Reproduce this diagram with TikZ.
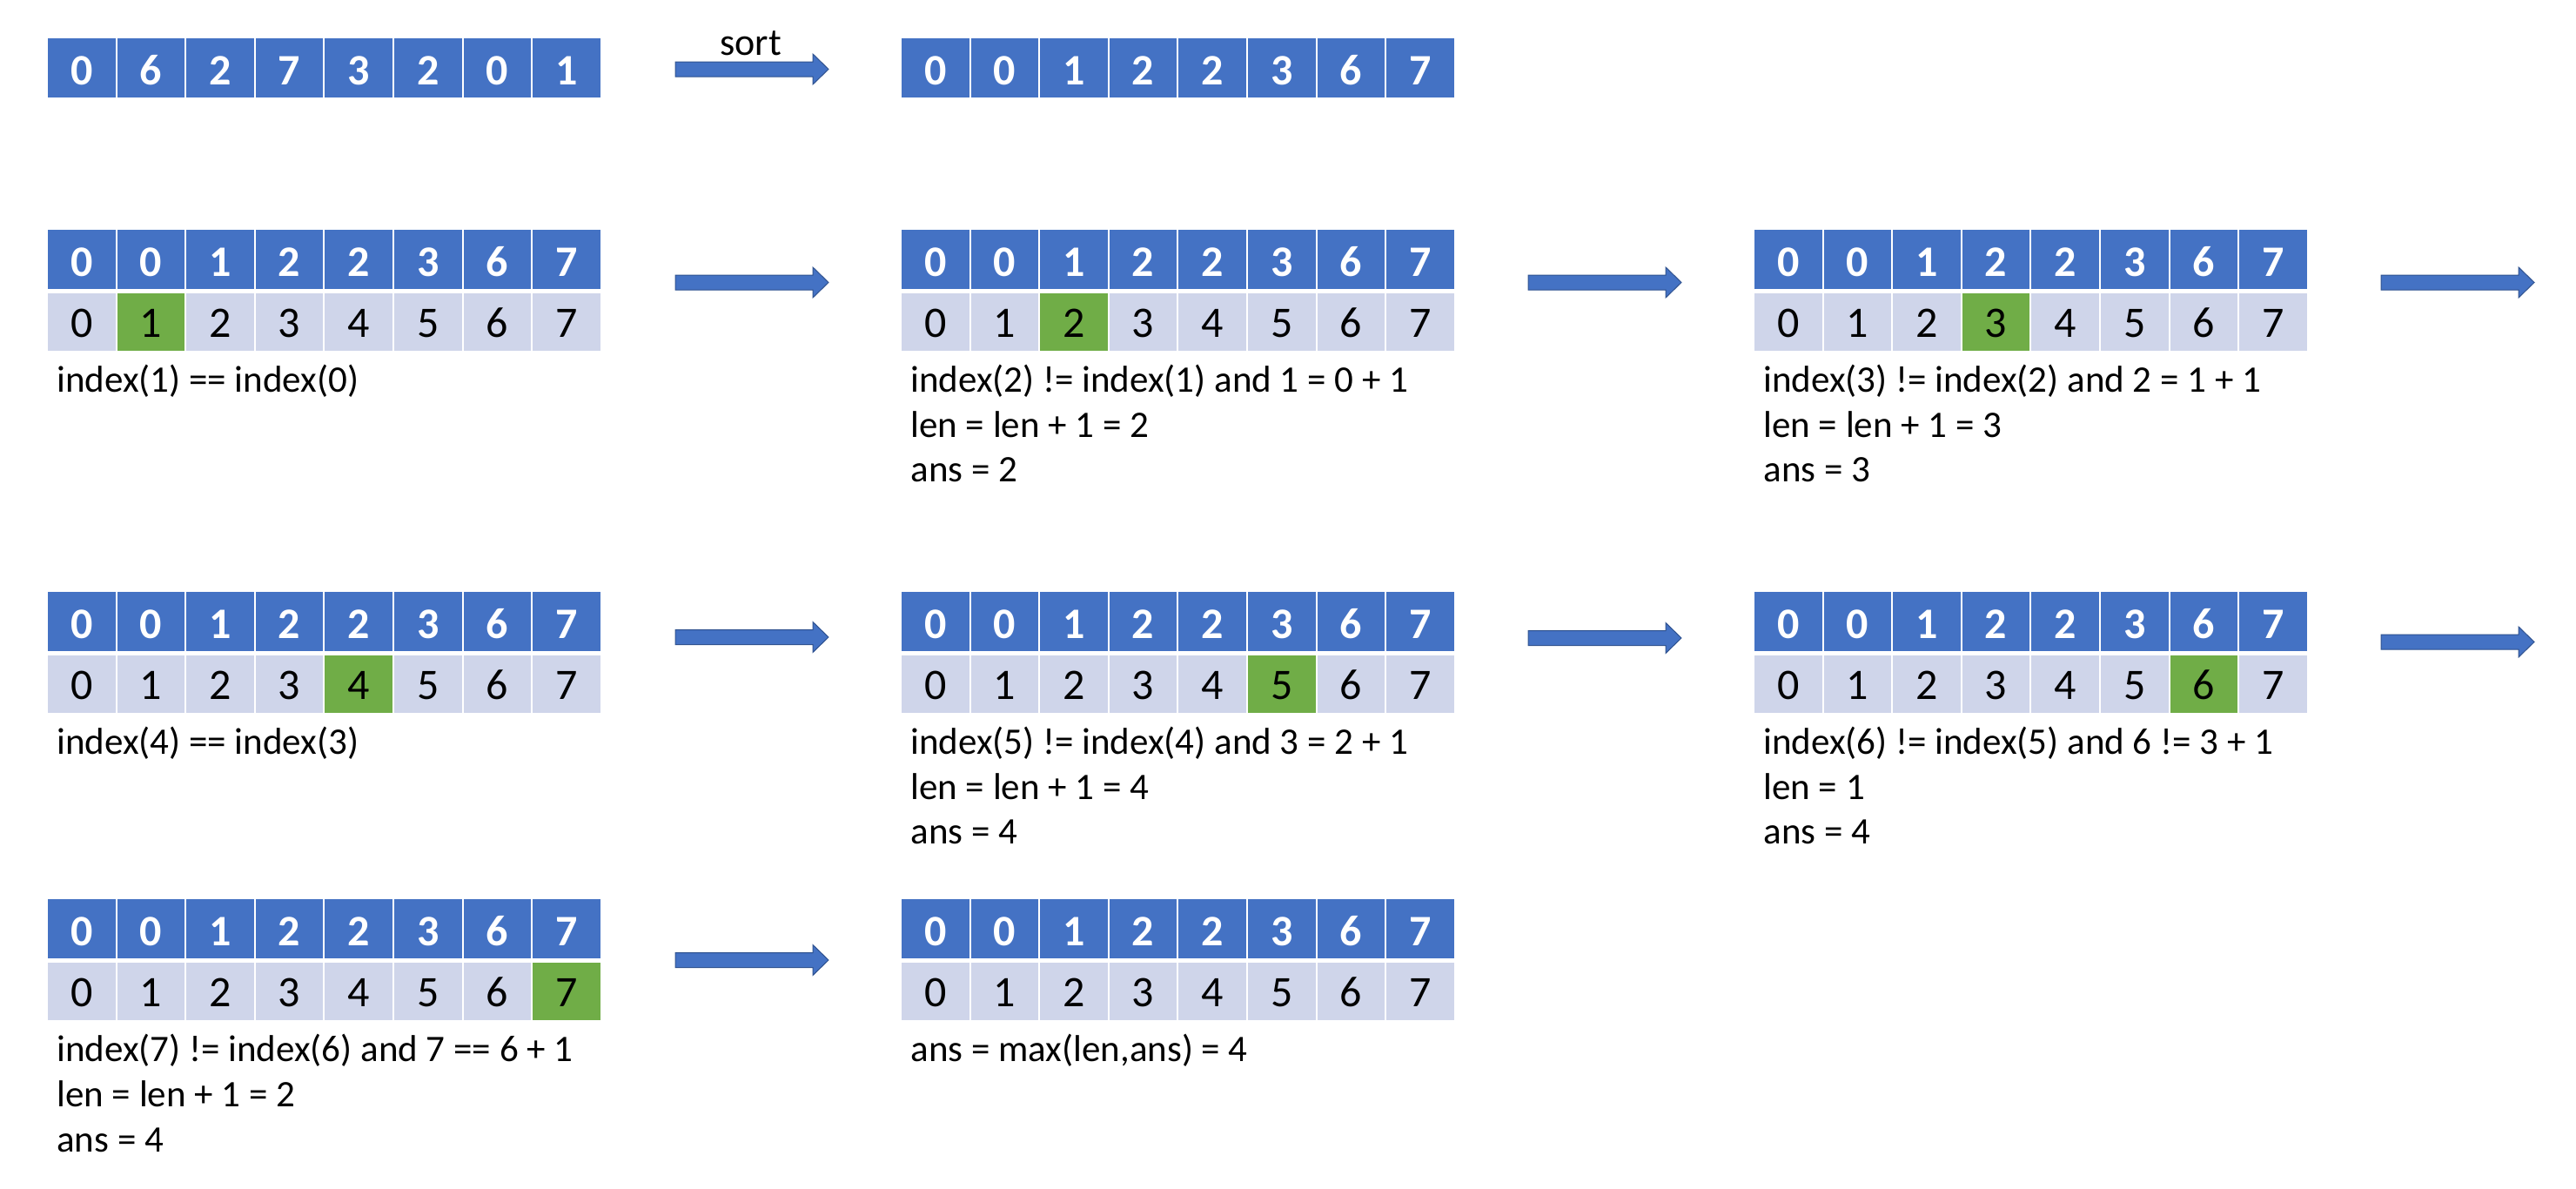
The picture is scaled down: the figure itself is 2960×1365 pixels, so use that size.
\documentclass[tikz,border=0pt]{standalone}
\usepackage{fontspec}
\setmainfont{Carlito}
\definecolor{cblue}{HTML}{4472C4}
\definecolor{cgray}{HTML}{CFD5EA}
\definecolor{cgreen}{HTML}{70AD47}
\definecolor{cdark}{HTML}{2F528F}
\tikzset{
  cellbase/.style={draw=white, line width=1pt, minimum width=39.8pt, inner sep=0pt},
  bluecell/.style={cellbase, fill=cblue, text=white, font=\fontsize{25}{30}\selectfont\bfseries, minimum height=35pt, text height=22pt, text depth=2.5pt},
  idxcell/.style={cellbase, text=black, font=\fontsize{25}{30}\selectfont, minimum height=34pt, text height=20pt, text depth=2.5pt},
  txt/.style={anchor=base west, inner sep=0pt, font=\fontsize{21.5}{25}\selectfont},
  barrowstyle/.style={fill=cblue, draw=cdark, line width=0.5pt},
  barrow/.pic={\draw[barrowstyle] (0,-8.5) -- (158,-8.5) -- (158,-17.5) -- (176,0) -- (158,17.5) -- (158,8.5) -- (0,8.5) -- cycle;}
}
% #1 name prefix, #2 left x, #3 top y, #4 values
\newcommand\valrow[4]{%
  \foreach \v [count=\i from 0] in {#4} {
    \node[bluecell] (#1b\i) at ({#2+39.8+79.6*\i},{#3+34.5}) {\v};
  }%
}
% #1 name prefix, #2 left x, #3 top y, #4 green index
\newcommand\idxrow[4]{%
  \foreach \i in {0,...,7} {
    \ifnum\i=#4\relax\def\cc{cgreen}\else\def\cc{cgray}\fi
    \node[idxcell, fill=\cc] (#1g\i) at ({#2+39.8+79.6*\i},{#3+106.5}) {\i};
  }%
}
\begin{document}
\begin{tikzpicture}[x=0.5pt,y=-0.5pt]
\useasboundingbox (0,0) rectangle (2960,1365);

% row 0
\valrow{a}{54}{43}{0,6,2,7,3,2,0,1}
\valrow{b}{1035}{43}{0,0,1,2,2,3,6,7}
\coordinate (ar0) at (776,79.5);
\pic at (ar0) {barrow};
\node[inner sep=0pt, anchor=base, font=\fontsize{22}{26}\selectfont] (sortlbl) at (862.5,63) {sort};

% row 1
\valrow{c}{54}{263}{0,0,1,2,2,3,6,7}
\idxrow{c}{54}{263}{1}
\valrow{d}{1035}{263}{0,0,1,2,2,3,6,7}
\idxrow{d}{1035}{263}{2}
\valrow{e}{2015}{263}{0,0,1,2,2,3,6,7}
\idxrow{e}{2015}{263}{3}
\coordinate (ar11) at (776,324.5);
\coordinate (ar12) at (1756,324.5);
\coordinate (ar13) at (2736,324.5);
\pic at (ar11) {barrow};
\pic at (ar12) {barrow};
\pic at (ar13) {barrow};
\node[txt] (tc1) at (65,450) {index(1) == index(0)};
\node[txt] (td1) at (1046,450) {index(2) != index(1) and 1 = 0 + 1};
\node[txt] (td2) at (1046,502) {len = len + 1 = 2};
\node[txt] (td3) at (1046,553) {ans = 2};
\node[txt] (te1) at (2026,450) {index(3) != index(2) and 2 = 1 + 1};
\node[txt] (te2) at (2026,502) {len = len + 1 = 3};
\node[txt] (te3) at (2026,553) {ans = 3};

% row 2
\valrow{f}{54}{679}{0,0,1,2,2,3,6,7}
\idxrow{f}{54}{679}{4}
\valrow{g}{1035}{679}{0,0,1,2,2,3,6,7}
\idxrow{g}{1035}{679}{5}
\valrow{h}{2015}{679}{0,0,1,2,2,3,6,7}
\idxrow{h}{2015}{679}{6}
\coordinate (ar21) at (776,732);
\coordinate (ar22) at (1756,733);
\coordinate (ar23) at (2736,737.5);
\pic at (ar21) {barrow};
\pic at (ar22) {barrow};
\pic at (ar23) {barrow};
\node[txt] (tf1) at (65,866) {index(4) == index(3)};
\node[txt] (tg1) at (1046,866) {index(5) != index(4) and 3 = 2 + 1};
\node[txt] (tg2) at (1046,918) {len = len + 1 = 4};
\node[txt] (tg3) at (1046,969) {ans = 4};
\node[txt] (th1) at (2026,866) {index(6) != index(5) and 6 != 3 + 1};
\node[txt] (th2) at (2026,918) {len = 1};
\node[txt] (th3) at (2026,969) {ans = 4};

% row 3
\valrow{k}{54}{1032}{0,0,1,2,2,3,6,7}
\idxrow{k}{54}{1032}{7}
\valrow{m}{1035}{1032}{0,0,1,2,2,3,6,7}
\idxrow{m}{1035}{1032}{-1}
\coordinate (ar31) at (776,1103);
\pic at (ar31) {barrow};
\node[txt] (tk1) at (65,1219) {index(7) != index(6) and 7 == 6 + 1};
\node[txt] (tk2) at (65,1271) {len = len + 1 = 2};
\node[txt] (tk3) at (65,1323) {ans = 4};
\node[txt] (tm1) at (1046,1219) {ans = max(len,ans) = 4};
\end{tikzpicture}
\end{document}
